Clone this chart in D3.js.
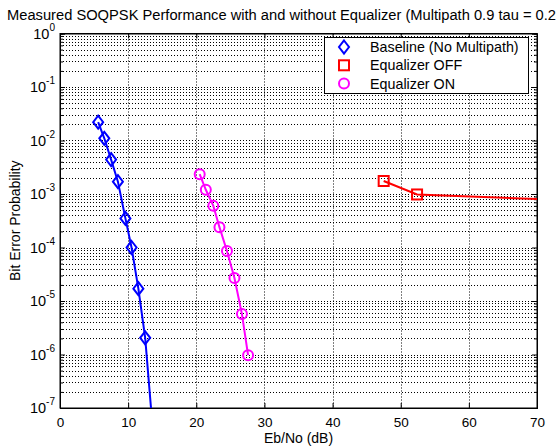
<!DOCTYPE html>
<html><head><meta charset="utf-8">
<script src="https://cdn.jsdelivr.net/npm/d3@7"></script>
<style>body{margin:0;background:#fff}svg{display:block;font-family:"Liberation Sans",Arial,sans-serif}</style>
</head><body>
<svg id="c" width="557" height="447"></svg>
<script>
const titleText = "Measured SOQPSK Performance with and without Equalizer (Multipath 0.9 tau = 0.2";
const xLabel = "Eb/No (dB)";
const yLabel = "Bit Error Probability";
const xTicks = [0, 10, 20, 30, 40, 50, 60, 70];
const yExps = [0, -1, -2, -3, -4, -5, -6, -7];
const legendNames = ["Baseline (No Multipath)", "Equalizer OFF", "Equalizer ON"];

const baselineX = [5.6, 6.5, 7.5, 8.5, 9.6, 10.5, 11.5, 12.5, 13.5];
const baselineY = [2.2e-2, 1.1e-2, 4.4e-3, 1.7e-3, 3.5e-4, 1.0e-4, 1.7e-5, 2.05e-6, 6e-8];
const eqOffX = [47.5, 52.4, 80];
const eqOffY = [1.75e-3, 9.8e-4, 7.2e-4];
const eqOnX = [20.5, 21.4, 22.5, 23.4, 24.5, 25.6, 26.7, 27.6];
const eqOnY = [2.35e-3, 1.2e-3, 6.0e-4, 2.4e-4, 8.6e-5, 2.7e-5, 5.7e-6, 9.7e-7];

const svg = d3.select("#c");
const L = 60, R = 537, T = 33.5, B = 408;
const x = d3.scaleLinear().domain([0, 70]).range([L, R]);
const y = d3.scaleLog().domain([1e-7, 1]).range([B, T]);

svg.append("defs").append("clipPath").attr("id", "clip")
  .append("rect").attr("x", L).attr("y", T).attr("width", R - L).attr("height", B - T);

// grid
const minorVals = [];
for (let k = -7; k < 0; k++) for (let m = 1; m <= 9; m++) minorVals.push(m * Math.pow(10, k));
minorVals.push(1);
const g = svg.append("g");
g.selectAll("line.hg").data(minorVals.filter(v => v > 1e-7 && v < 1)).enter().append("line")
  .attr("x1", L).attr("x2", R).attr("y1", d => Math.round(y(d)) + 0.5).attr("y2", d => Math.round(y(d)) + 0.5)
  .attr("stroke", "#000").attr("stroke-width", 1).attr("stroke-dasharray", "1,2");
g.selectAll("line.vg").data(xTicks.filter(v => v > 0 && v < 70)).enter().append("line")
  .attr("y1", T).attr("y2", B).attr("x1", d => Math.round(x(d)) + 0.5).attr("x2", d => Math.round(x(d)) + 0.5)
  .attr("stroke", "#000").attr("stroke-width", 1).attr("stroke-dasharray", "1,2");

// axes with ticks (box)
const axB = d3.axisBottom(x).tickValues(xTicks).tickSize(-5).tickPadding(9).tickFormat(d3.format("d"));
const gb = svg.append("g").attr("transform", `translate(0,${B})`).call(axB);
svg.append("g").attr("transform", `translate(0,${T})`).call(d3.axisTop(x).tickValues(xTicks).tickSize(-5).tickFormat(""));
const majorY = yExps.map(e => Math.pow(10, e));
svg.append("g").attr("transform", `translate(${L},0)`).call(d3.axisLeft(y).tickValues(majorY).tickSize(-5).tickFormat(""));
svg.append("g").attr("transform", `translate(${R},0)`).call(d3.axisRight(y).tickValues(majorY).tickSize(-5).tickFormat(""));
const minorOnly = minorVals.filter(v => v > 1e-7 && v < 1 && Math.abs(Math.log10(v) - Math.round(Math.log10(v))) > 1e-6);
svg.append("g").attr("transform", `translate(${L},0)`).call(d3.axisLeft(y).tickValues(minorOnly).tickSize(-3).tickFormat(""));
svg.append("g").attr("transform", `translate(${R},0)`).call(d3.axisRight(y).tickValues(minorOnly).tickSize(-3).tickFormat(""));
svg.selectAll(".domain").attr("stroke", "#000").attr("stroke-width", 1);
svg.selectAll(".tick line").attr("stroke", "#000");
gb.selectAll(".tick text").attr("font-size", 13.5).attr("fill", "#000").attr("font-family", "Liberation Sans, Arial, sans-serif");
svg.append("rect").attr("x", L).attr("y", T).attr("width", R - L).attr("height", B - T)
  .attr("fill", "none").attr("stroke", "#000").attr("stroke-width", 1);

// y tick labels 10^k
yExps.forEach(e => {
  const t = svg.append("text").attr("x", 55).attr("y", y(Math.pow(10, e)) + 5)
    .attr("text-anchor", "end").attr("font-size", 14.5).attr("fill", "#000");
  t.append("tspan").text("10");
  t.append("tspan").attr("dy", -8).attr("font-size", 10).text(String(e));
});

// series
const series = [
  {xs: baselineX, ys: baselineY, color: "#0000ff", marker: "diamond"},
  {xs: eqOffX, ys: eqOffY, color: "#ff0000", marker: "square"},
  {xs: eqOnX, ys: eqOnY, color: "#ff00ff", marker: "circle"}
];
const plot = svg.append("g").attr("clip-path", "url(#clip)");
const line = d3.line().x(d => x(d[0])).y(d => y(d[1]));
function drawMarker(sel, type, color) {
  if (type === "diamond") sel.append("path").attr("d", "M0,-6.5L5,0L0,6.5L-5,0Z");
  else if (type === "square") sel.append("rect").attr("x", -5).attr("y", -5).attr("width", 10).attr("height", 10);
  else sel.append("circle").attr("r", 5);
  sel.selectAll("*").attr("fill", "none").attr("stroke", color).attr("stroke-width", 2);
}
series.forEach(s => {
  const pts = s.xs.map((v, i) => [v, s.ys[i]]);
  plot.append("path").datum(pts).attr("d", line).attr("fill", "none")
    .attr("stroke", s.color).attr("stroke-width", 2);
  plot.selectAll(null).data(pts).enter().append("g")
    .attr("transform", d => `translate(${x(d[0])},${y(d[1])})`)
    .each(function () { drawMarker(d3.select(this), s.marker, s.color); });
});

// legend
const lg = svg.append("g");
lg.append("rect").attr("x", 324.5).attr("y", 37.5).attr("width", 204).attr("height", 56)
  .attr("fill", "#fff").attr("stroke", "#000").attr("stroke-width", 1);
series.forEach((s, i) => {
  const yy = 47 + i * 18.3;
  const m = lg.append("g").attr("transform", `translate(344,${yy})`);
  drawMarker(m, s.marker, s.color);
  lg.append("text").attr("x", 370).attr("y", yy + 5).attr("font-size", 14.3).attr("fill", "#000").text(legendNames[i]);
});

// titles
svg.append("text").attr("x", 7).attr("y", 20).attr("font-size", 14.7).attr("fill", "#000").text(titleText);
svg.append("text").attr("x", (L + R) / 2).attr("y", 443).attr("text-anchor", "middle").attr("font-size", 14).attr("fill", "#000").text(xLabel);
svg.append("text").attr("transform", `translate(20,${(T + B) / 2}) rotate(-90)`).attr("text-anchor", "middle")
  .attr("font-size", 14).attr("fill", "#000").text(yLabel);
</script>
</body></html>
